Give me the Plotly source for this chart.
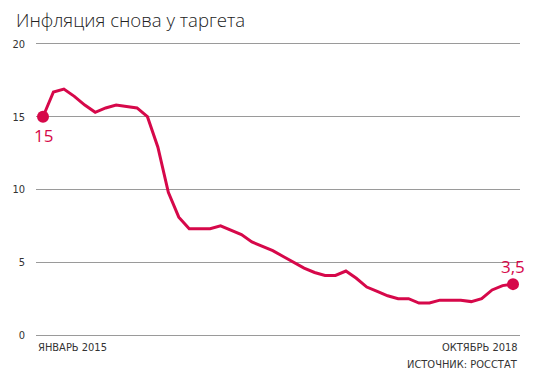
import plotly.graph_objects as go

months = list(range(46))
inflation = [15.0, 16.7, 16.9, 16.4, 15.8, 15.3, 15.6, 15.8, 15.7, 15.6, 15.0, 12.9,
             9.8, 8.1, 7.3, 7.3, 7.3, 7.5, 7.2, 6.9, 6.4, 6.1, 5.8, 5.4,
             5.0, 4.6, 4.3, 4.1, 4.1, 4.4, 3.9, 3.3, 3.0, 2.7, 2.5, 2.5,
             2.2, 2.2, 2.4, 2.4, 2.4, 2.3, 2.5, 3.1, 3.4, 3.5]
y_ticks = [0, 5, 10, 15, 20]
title_text = "Инфляция снова у таргета"
start_label = "ЯНВАРЬ 2015"
end_label = "ОКТЯБРЬ 2018"
source_label = "ИСТОЧНИК: РОССТАТ"
first_label = "15"
last_label = "3,5"

RED = "#d6084a"
GRID = "#9a9a9a"
COND = "DejaVu Sans Condensed, Liberation Sans Narrow, Arial Narrow, sans-serif"
TXT = "#333"
PH = 297  # plot height in px

fig = go.Figure()
fig.add_trace(go.Scatter(x=months, y=inflation, mode="lines",
                         line=dict(color=RED, width=3), hoverinfo="skip"))
fig.add_trace(go.Scatter(x=[months[0], months[-1]], y=[inflation[0], inflation[-1]],
                         mode="markers", marker=dict(color=RED, size=12), hoverinfo="skip"))

fig.update_layout(
    width=536, height=380,
    margin=dict(l=36, r=16, t=41, b=42),
    paper_bgcolor="white", plot_bgcolor="white",
    showlegend=False,
    xaxis=dict(range=[-0.67, 45.67], showgrid=False, zeroline=False,
               showticklabels=False, showline=False, fixedrange=True),
    yaxis=dict(range=[-0.2, 20.2], tickvals=y_ticks, showgrid=True, gridcolor=GRID,
               gridwidth=1, zeroline=True, zerolinecolor=GRID, zerolinewidth=1,
               showline=False, ticks="",
               ticklabelstandoff=10,
               tickfont=dict(family=COND, size=11, color=TXT)),
    annotations=[
        dict(text=title_text, xref="paper", yref="paper", x=-22/484, y=1 + 21/PH,
             xanchor="left", yanchor="middle", showarrow=False,
             font=dict(family="Open Sans, sans-serif", size=18.6, color="#222", weight=300)),
        dict(text=start_label, xref="paper", yref="paper", x=0, y=-9/PH,
             xanchor="left", yanchor="middle", showarrow=False,
             font=dict(family=COND, size=11, color=TXT)),
        dict(text=end_label, xref="paper", yref="paper", x=1, y=-9/PH,
             xanchor="right", yanchor="middle", showarrow=False,
             font=dict(family=COND, size=11, color=TXT)),
        dict(text=source_label, xref="paper", yref="paper", x=1, y=-26/PH,
             xanchor="right", yanchor="middle", showarrow=False,
             font=dict(family=COND, size=11, color=TXT)),
        dict(text=first_label, x=months[0], y=inflation[0], yshift=-19,
             xanchor="center", yanchor="middle", showarrow=False,
             font=dict(family="Open Sans, sans-serif", size=17, color=RED)),
        dict(text=last_label, x=months[-1], y=inflation[-1], yshift=18,
             xanchor="center", yanchor="middle", showarrow=False,
             font=dict(family="Open Sans, sans-serif", size=17, color=RED)),
    ],
)

fig.write_html("out.html")
